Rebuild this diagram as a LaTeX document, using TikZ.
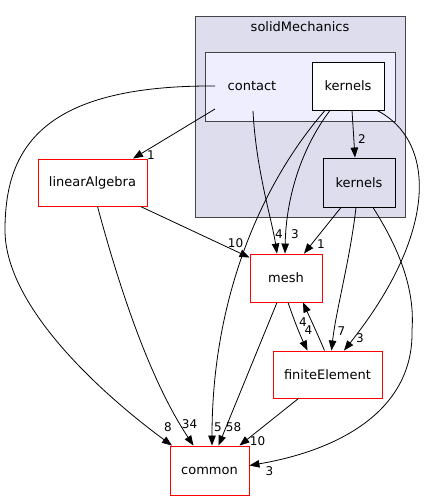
\documentclass[tikz,border=0pt]{standalone}
\usepackage{fontspec}
\setmainfont{DejaVu Sans}
\usepackage{xcolor}
\usetikzlibrary{arrows.meta,positioning,calc}

\definecolor{clusterfill}{HTML}{DDDDEE}
\definecolor{contactfill}{HTML}{EEEEFF}
\definecolor{clusterline}{HTML}{444444}

\begin{document}
\begin{tikzpicture}[
    x=1pt, y=-1pt,
    every node/.style={font=\fontsize{13pt}{15pt}\selectfont},
    dirbox/.style={rectangle, draw=red, fill=white, line width=0.9pt, inner sep=0pt},
    clusterbox/.style={rectangle, draw=clusterline, fill=clusterfill, line width=0.9pt, inner sep=0pt},
    arrow/.style={-{Triangle[length=10pt,width=7.5pt]}, line width=0.8pt},
    count/.style={font=\fontsize{12pt}{14pt}\selectfont, inner sep=0pt}
]
\useasboundingbox (0,0) rectangle (423,500);

% Clusters
\node[clusterbox, minimum width=210pt, minimum height=201pt] (solid) at (300,116.5) {};
\node (solidtitle) at (300,27) {solidMechanics};
\node[clusterbox, fill=contactfill, minimum width=190pt, minimum height=69pt] (contactbox) at (300,86.5) {};
\node (contact) at (252,86) {contact};

% Nodes
\node[dirbox, draw=black, minimum width=72pt, minimum height=48pt] (kin) at (348,86) {kernels};
\node[clusterbox, draw=black, minimum width=72pt, minimum height=49pt] (kout) at (359,182.5) {kernels};
\node[dirbox, minimum width=109pt, minimum height=47pt] (linalg) at (92.5,182.5) {linearAlgebra};
\node[dirbox, minimum width=72pt, minimum height=48pt] (mesh) at (286,278) {mesh};
\node[dirbox, minimum width=109pt, minimum height=47pt] (fe) at (327.5,374.5) {finiteElement};
\node[dirbox, minimum width=79pt, minimum height=49pt] (common) at (209.5,470.5) {common};

% Arrows
\draw[arrow] ([xshift=-37pt,yshift=-23pt]contact.center) -- ([xshift=40.5pt]linalg.north)
    node[count, at end, xshift=18pt, yshift=3pt] {1};
\draw[arrow] ([xshift=-37pt]contact.center) .. controls (40,85) and (5,150) .. (5,230)
    .. controls (5,310) and (110,400) .. ([xshift=-37.5pt]common.north)
    node[count, at end, xshift=-4pt, yshift=18pt] {8};
\draw[arrow] ([xshift=1pt,yshift=-25pt]contact.center) .. controls (256,170) and (272,220) .. ([xshift=-9pt]mesh.north)
    node[count, at end, xshift=2pt, yshift=19pt] {4};
\draw[arrow] ([xshift=-18pt]kin.south) .. controls (300,150) and (286,200) .. ([xshift=-1pt]mesh.north)
    node[count, at end, xshift=10pt, yshift=19pt] {3};
\draw[arrow] ([xshift=-23pt]kin.south) .. controls (260,185) and (212,300) .. ([xshift=2.5pt]common.north)
    node[count, at end, xshift=6pt, yshift=18pt] {5};
\draw[arrow] ([xshift=4pt]kin.south) -- ([xshift=-4pt]kout.north)
    node[count, at end, xshift=7pt, yshift=19pt] {2};
\draw[arrow] ([xshift=29pt]kin.south) .. controls (435,140) and (440,230) .. ([xshift=16.5pt]fe.north)
    node[count, at end, xshift=16pt, yshift=12pt] {3};
\draw[arrow] ([xshift=-18pt]kout.south) -- ([xshift=18pt]mesh.north)
    node[count, at end, xshift=17pt, yshift=9pt] {1};
\draw[arrow] ([xshift=-3pt]kout.south) .. controls (350,260) and (336,310) .. ([xshift=4pt]fe.north)
    node[count, at end, xshift=10pt, yshift=19pt] {7};
\draw[arrow] ([xshift=14pt]kout.south) .. controls (400,250) and (415,290) .. (412,330)
    .. controls (414,410) and (340,450) .. ([yshift=5pt]common.east)
    node[count, at end, xshift=20pt, yshift=-6pt] {3};
\draw[arrow] ([xshift=-7pt]linalg.south east) -- ([yshift=-4pt]mesh.north west)
    node[count, at end, xshift=-14pt, yshift=14pt] {10};
\draw[arrow] ([xshift=5pt]linalg.south) .. controls (120,290) and (150,380) .. ([xshift=-16pt]common.north)
    node[count, at end, xshift=-4pt, yshift=21pt] {34};
\draw[arrow] ([xshift=-9pt]mesh.south) -- ([xshift=9pt]common.north)
    node[count, at end, xshift=15pt, yshift=18pt] {58};
\draw[arrow] ([xshift=2pt]mesh.south) .. controls (294,320) and (300,335) .. ([xshift=-20pt]fe.north)
    node[count, at end, xshift=1pt, yshift=20pt] {4};
\draw[arrow] ([xshift=-3pt]fe.north) .. controls (318,335) and (310,318) .. ([xshift=17pt]mesh.south)
    node[count, at end, xshift=0pt, yshift=-20pt] {4};
\draw[arrow] ([xshift=-29pt]fe.south) -- ([xshift=30pt]common.north)
    node[count, at end, xshift=18pt, yshift=4pt] {10};

\end{tikzpicture}
\end{document}
